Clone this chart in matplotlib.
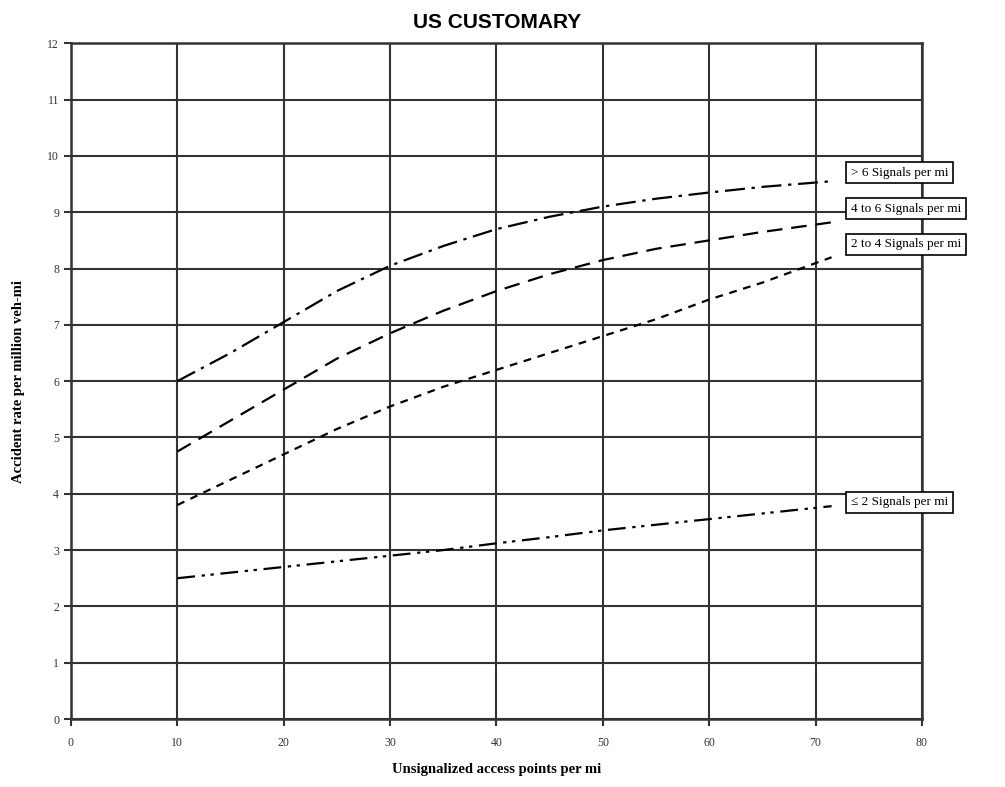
import matplotlib
matplotlib.use("Agg")
import matplotlib.pyplot as plt
import numpy as np

# Curve values
access_points = [10, 15, 20, 25, 30, 35, 40, 45, 50, 55, 60, 65, 71.5]
over_6 = [6.0, 6.5, 7.05, 7.6, 8.05, 8.4, 8.7, 8.92, 9.1, 9.24, 9.35, 9.45, 9.55]
from_4_to_6 = [4.75, 5.3, 5.85, 6.4, 6.85, 7.25, 7.6, 7.9, 8.15, 8.35, 8.5, 8.65, 8.82]
from_2_to_4 = [3.8, 4.25, 4.7, 5.15, 5.55, 5.9, 6.2, 6.5, 6.8, 7.1, 7.45, 7.75, 8.2]
up_to_2 = [2.5, 2.6, 2.7, 2.8, 2.9, 3.0, 3.12, 3.23, 3.35, 3.45, 3.55, 3.65, 3.78]

labels = ["> 6 Signals per mi", "4 to 6 Signals per mi", "2 to 4 Signals per mi", "\u2264 2 Signals per mi"]
label_y = [9.7, 9.06, 8.43, 3.85]

serif = ["Liberation Serif", "DejaVu Serif"]

fig = plt.figure(figsize=(10.05, 7.87), dpi=100)
ax = fig.add_axes([0.0706, 0.0864, 0.8468, 0.8586])

styles = [
    (0, (9, 3, 1.5, 3)),
    (0, (7, 4)),
    (0, (3.5, 3)),
    (0, (8, 3, 1.5, 2.5, 1.5, 3)),
]
series = [over_6, from_4_to_6, from_2_to_4, up_to_2]
for values, ls in zip(series, styles):
    ax.plot(access_points, values, color="black", linewidth=1.6, linestyle=ls, zorder=3)

for text, y in zip(labels, label_y):
    ax.text(73.3, y, text, fontsize=9.5, family=serif, va="center", ha="left",
            clip_on=False, zorder=4,
            bbox=dict(boxstyle="square,pad=0.35", facecolor="white", edgecolor="black", linewidth=1.2))

ax.set_xlim(0, 80)
ax.set_ylim(0, 12)
ax.set_xticks(np.arange(0, 81, 10))
ax.set_yticks(np.arange(0, 13, 1))
ax.grid(True, color="#333333", linewidth=1.5)
ax.set_axisbelow(True)
for spine in ax.spines.values():
    spine.set_color("#333333")
    spine.set_linewidth(1.8)
ax.tick_params(labelsize=8.5, color="#333333", length=5, width=1.5)
ax.tick_params(axis="x", pad=8)
for lbl in ax.get_xticklabels() + ax.get_yticklabels():
    lbl.set_family(serif)
    lbl.set_color("#333333")

ax.set_xlabel("Unsignalized access points per mi", fontsize=10.5, fontweight="bold", family=serif, labelpad=10)
ax.set_ylabel("Accident rate per million veh-mi", fontsize=10.5, fontweight="bold", family=serif, labelpad=16)
fig.text(0.495, 0.972, "US CUSTOMARY", ha="center", va="center", fontsize=15,
         fontweight="bold", family="Liberation Sans")

fig.savefig("out.png", dpi=100, facecolor="white")
